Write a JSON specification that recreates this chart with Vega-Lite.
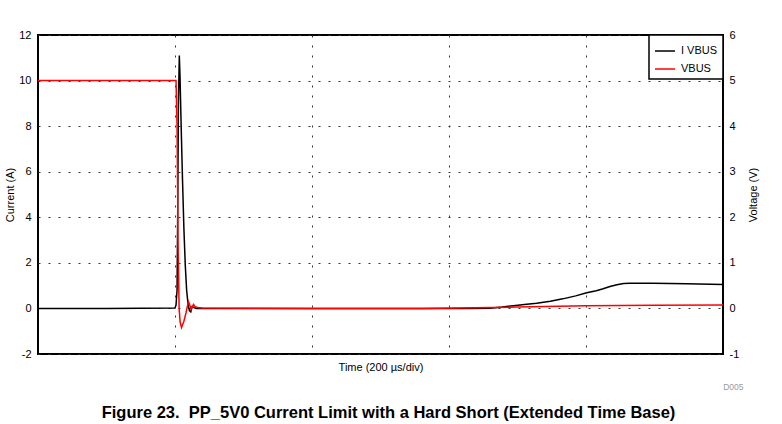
{
  "$schema": "https://vega.github.io/schema/vega-lite/v6.json",
  "autosize": {"type": "none"},
  "width": 685,
  "height": 319,
  "padding": {"left": 38, "top": 35, "right": 59, "bottom": 70},
  "background": "white",
  "config": {
    "font": "Liberation Sans",
    "view": {"stroke": "black", "strokeWidth": 2},
    "axis": {"labelFont": "Liberation Sans", "titleFont": "Liberation Sans", "labelColor": "black", "titleColor": "black", "titleFontWeight": "normal", "labelFontSize": 11, "titleFontSize": 11}
  },
  "title": {
    "text": "Figure 23.\u00a0 PP_5V0 Current Limit with a Hard Short (Extended Time Base)",
    "orient": "bottom",
    "anchor": "middle",
    "fontSize": 16.5,
    "fontWeight": "bold",
    "font": "Liberation Sans",
    "color": "black",
    "offset": 14,
    "dx": 8
  },
  "datasets": {
    "wave": [
      {"t": 0, "v": 0, "s": "I VBUS"},
      {"t": 100, "v": 0, "s": "I VBUS"},
      {"t": 200, "v": 0.02, "s": "I VBUS"},
      {"t": 201.5, "v": 0.15, "s": "I VBUS"},
      {"t": 203, "v": 0.8, "s": "I VBUS"},
      {"t": 204, "v": 4.5, "s": "I VBUS"},
      {"t": 205, "v": 9, "s": "I VBUS"},
      {"t": 206.3, "v": 11.1, "s": "I VBUS"},
      {"t": 207.3, "v": 10.2, "s": "I VBUS"},
      {"t": 209, "v": 8.0, "s": "I VBUS"},
      {"t": 211, "v": 5.6, "s": "I VBUS"},
      {"t": 213, "v": 3.5, "s": "I VBUS"},
      {"t": 215, "v": 1.9, "s": "I VBUS"},
      {"t": 217, "v": 0.8, "s": "I VBUS"},
      {"t": 219, "v": 0.2, "s": "I VBUS"},
      {"t": 221, "v": -0.1, "s": "I VBUS"},
      {"t": 223, "v": -0.15, "s": "I VBUS"},
      {"t": 225, "v": 0.08, "s": "I VBUS"},
      {"t": 227, "v": 0.05, "s": "I VBUS"},
      {"t": 231, "v": 0, "s": "I VBUS"},
      {"t": 400, "v": 0, "s": "I VBUS"},
      {"t": 558, "v": 0, "s": "I VBUS"},
      {"t": 630, "v": 0, "s": "I VBUS"},
      {"t": 660, "v": 0.01, "s": "I VBUS"},
      {"t": 678, "v": 0.06, "s": "I VBUS"},
      {"t": 694, "v": 0.12, "s": "I VBUS"},
      {"t": 710, "v": 0.17, "s": "I VBUS"},
      {"t": 728, "v": 0.23, "s": "I VBUS"},
      {"t": 748, "v": 0.32, "s": "I VBUS"},
      {"t": 766, "v": 0.42, "s": "I VBUS"},
      {"t": 785, "v": 0.55, "s": "I VBUS"},
      {"t": 801, "v": 0.69, "s": "I VBUS"},
      {"t": 815, "v": 0.78, "s": "I VBUS"},
      {"t": 825, "v": 0.86, "s": "I VBUS"},
      {"t": 835, "v": 0.96, "s": "I VBUS"},
      {"t": 845, "v": 1.04, "s": "I VBUS"},
      {"t": 855, "v": 1.09, "s": "I VBUS"},
      {"t": 864, "v": 1.11, "s": "I VBUS"},
      {"t": 898, "v": 1.11, "s": "I VBUS"},
      {"t": 947, "v": 1.08, "s": "I VBUS"},
      {"t": 1000, "v": 1.05, "s": "I VBUS"},
      {"t": 0, "v": 5.0, "s": "VBUS"},
      {"t": 100, "v": 5.0, "s": "VBUS"},
      {"t": 201.5, "v": 5.0, "s": "VBUS"},
      {"t": 203, "v": 4.0, "s": "VBUS"},
      {"t": 204.4, "v": 1.5, "s": "VBUS"},
      {"t": 206, "v": 0.0, "s": "VBUS"},
      {"t": 207.5, "v": -0.3, "s": "VBUS"},
      {"t": 209.5, "v": -0.42, "s": "VBUS"},
      {"t": 213, "v": -0.28, "s": "VBUS"},
      {"t": 216, "v": -0.1, "s": "VBUS"},
      {"t": 218.5, "v": 0.08, "s": "VBUS"},
      {"t": 219.5, "v": 0.15, "s": "VBUS"},
      {"t": 221, "v": 0.1, "s": "VBUS"},
      {"t": 223.5, "v": -0.02, "s": "VBUS"},
      {"t": 227, "v": 0.09, "s": "VBUS"},
      {"t": 229.5, "v": 0.04, "s": "VBUS"},
      {"t": 233, "v": 0.02, "s": "VBUS"},
      {"t": 240, "v": 0.01, "s": "VBUS"},
      {"t": 400, "v": 0.0, "s": "VBUS"},
      {"t": 560, "v": 0.0, "s": "VBUS"},
      {"t": 700, "v": 0.03, "s": "VBUS"},
      {"t": 800, "v": 0.06, "s": "VBUS"},
      {"t": 900, "v": 0.07, "s": "VBUS"},
      {"t": 1000, "v": 0.075, "s": "VBUS"}
    ]
  },
  "data": {"name": "wave"},
  "layer": [
    {
      "transform": [{"filter": "datum.s === 'I VBUS'"}],
      "mark": {"type": "line", "strokeWidth": 1.5, "interpolate": "linear"},
      "encoding": {
        "x": {
          "field": "t", "type": "quantitative",
          "scale": {"domain": [0, 1000], "nice": false, "zero": false},
          "axis": {
            "title": "Time (200 µs/div)",
            "values": [200, 400, 600, 800],
            "labels": false, "ticks": false, "domain": false,
            "grid": true, "gridDash": [2, 8], "gridColor": "#333", "gridWidth": 1,
            "titlePadding": 7
          }
        },
        "y": {
          "field": "v", "type": "quantitative",
          "scale": {"domain": [-2, 12], "nice": false, "zero": false},
          "axis": {
            "title": "Current (A)",
            "orient": "left",
            "values": [-2, 0, 2, 4, 6, 8, 10, 12],
            "labelExpr": "datum.value + ''",
            "ticks": false, "domain": false,
            "labelPadding": 7,
            "grid": true, "gridDash": [2, 8], "gridColor": "#333", "gridWidth": 1,
            "titlePadding": 3
          }
        },
        "color": {
          "field": "s", "type": "nominal",
          "scale": {"domain": ["I VBUS", "VBUS"], "range": ["#000000", "#ff0000"]},
          "legend": {
            "title": null,
            "orient": "top-right",
            "offset": 0,
            "strokeColor": "black",
            "fillColor": "white",
            "padding": 5,
            "labelFontSize": 11,
            "labelFont": "Liberation Sans",
            "labelColor": "black",
            "symbolType": "stroke",
            "symbolStrokeWidth": 1.5,
            "symbolSize": 400,
            "rowPadding": 2,
            "labelOffset": 5,
            "encode": {"legend": {"update": {"strokeWidth": {"value": 1.5}}}}
          }
        }
      }
    },
    {
      "transform": [{"filter": "datum.s === 'VBUS'"}],
      "mark": {"type": "line", "strokeWidth": 1.5, "interpolate": "linear"},
      "encoding": {
        "x": {
          "field": "t", "type": "quantitative",
          "scale": {"domain": [0, 1000], "nice": false, "zero": false},
          "axis": {
            "title": "D005",
            "orient": "bottom",
            "offset": 24,
            "labels": false, "ticks": false, "domain": false, "grid": false,
            "titleAnchor": "end",
            "titleFontSize": 8.5,
            "titleColor": "#9a9a9a",
            "titleX": 705
          }
        },
        "y": {
          "field": "v", "type": "quantitative",
          "scale": {"domain": [-1, 6], "nice": false, "zero": false},
          "axis": {
            "title": "Voltage (V)",
            "orient": "right",
            "values": [-1, 0, 1, 2, 3, 4, 5, 6],
            "labelExpr": "datum.value + ''",
            "ticks": false, "domain": false, "grid": false,
            "labelPadding": 6,
            "titleAngle": 270,
            "titlePadding": 20
          }
        },
        "color": {"field": "s", "type": "nominal"}
      }
    }
  ],
  "resolve": {"scale": {"y": "independent"}, "axis": {"x": "independent"}}
}
